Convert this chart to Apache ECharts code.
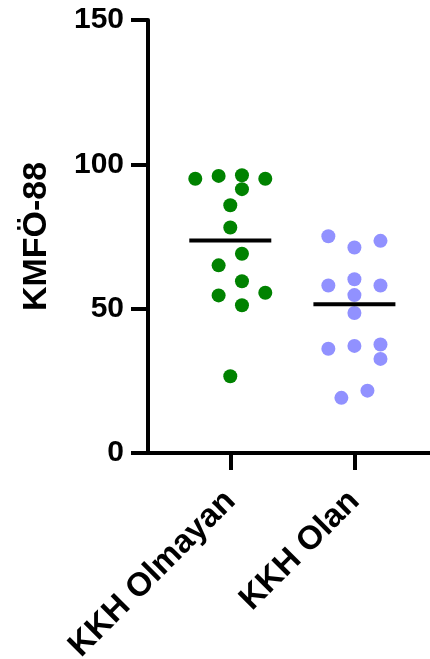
<!DOCTYPE html>
<html><head><meta charset="utf-8">
<script src="https://cdn.jsdelivr.net/npm/echarts@6/dist/echarts.min.js"></script>
<style>html,body{margin:0;padding:0;background:#fff}#c{width:430px;height:659px}</style>
</head><body><div id="c"></div>
<script>
// Data
const categories = ['KKH Olmayan', 'KKH Olan'];
const valuesOlmayan = [95.0, 96.0, 96.2, 95.0, 91.4, 85.8, 78.1, 69.0, 65.0, 59.5, 54.6, 55.5, 51.2, 26.6];
const slotsOlmayan  = [-3, -1, 1, 3, 1, 0, 0, 1, -1, 1, -1, 3, 1, 0];
const valuesOlan    = [75.1, 71.2, 73.5, 58.0, 60.2, 58.0, 54.7, 48.5, 36.1, 37.1, 37.6, 32.6, 19.1, 21.6];
const slotsOlan     = [-2, 0, 2, -2, 0, 2, 0, 0, -2, 0, 2, 2, -1, 1];
const means = [73.6, 51.5];
const yTicks = [0, 50, 100, 150];
const yName = 'KMFÖ-88';

const stepA = 0.094, stepB = 0.105;
const ptsA = valuesOlmayan.map((v, i) => [1 + slotsOlmayan[i] * stepA, v]);
const ptsB = valuesOlan.map((v, i) => [2 + slotsOlan[i] * stepB, v]);
const meanPts = means.map((m, i) => [i + 1, m]);

const font = 'Liberation Sans, Arial, sans-serif';
const chart = echarts.init(document.getElementById('c'), null, {renderer: 'canvas'});
chart.setOption({
  animation: false,
  backgroundColor: '#ffffff',
  grid: {left: 148, right: 0, top: 20, bottom: 206, containLabel: false, outerBoundsMode: 'none'},
  xAxis: {
    type: 'value', min: 0.337, max: 2.609,
    splitLine: {show: false},
    axisLine: {show: true, onZero: false, lineStyle: {color: '#000', width: 4}},
    axisTick: {show: true, length: 17, lineStyle: {color: '#000', width: 4}, customValues: [1, 2]},
    axisLabel: {
      show: true, rotate: 45, margin: 43, customValues: [1, 2],
      formatter: v => categories[Math.round(v) - 1],
      color: '#000', fontSize: 33, fontWeight: 'bold', fontFamily: font
    }
  },
  yAxis: {
    type: 'value', min: yTicks[0], max: yTicks[yTicks.length - 1], interval: 50,
    name: yName, nameLocation: 'middle', nameGap: 94,
    nameTextStyle: {color: '#000', fontSize: 34, fontWeight: 'bold', fontFamily: font},
    splitLine: {show: false},
    axisLine: {show: true, lineStyle: {color: '#000', width: 4}},
    axisTick: {show: true, length: 17, lineStyle: {color: '#000', width: 4}},
    axisLabel: {margin: 24, color: '#000', fontSize: 30, fontWeight: 'bold', fontFamily: font}
  },
  series: [
    {type: 'scatter', data: ptsA, symbol: 'circle', symbolSize: 14, itemStyle: {color: '#008200', opacity: 1}, z: 2},
    {type: 'scatter', data: ptsB, symbol: 'circle', symbolSize: 14, itemStyle: {color: '#9191FF', opacity: 1}, z: 2},
    {type: 'scatter', data: meanPts, symbol: 'rect', symbolSize: [82, 4], itemStyle: {color: '#000', opacity: 1}, z: 3}
  ]
});
</script></body></html>
